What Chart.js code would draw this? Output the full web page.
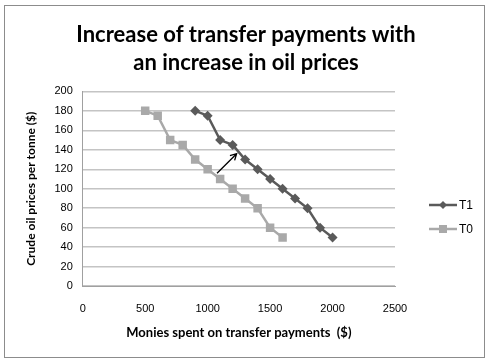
<!DOCTYPE html>
<html>
<head>
<meta charset="utf-8">
<script src="https://cdn.jsdelivr.net/npm/chart.js@4/dist/chart.umd.min.js"></script>
<style>
  body { margin: 0; background: #fff; }
  #wrap { position: relative; width: 492px; height: 363px; }
  #frame { position: absolute; left: 4px; top: 5px; width: 479px; height: 351px; border: 1px solid #8c8c8c; pointer-events: none; }
</style>
</head>
<body>
<div id="wrap">
  <canvas id="chart" width="492" height="363"></canvas>
  <div id="frame"></div>
</div>
<script>
// monies spent on transfer payments ($)
const moniesT1 = [900, 1000, 1100, 1200, 1300, 1400, 1500, 1600, 1700, 1800, 1900, 2000];
const moniesT0 = [500, 600, 700, 800, 900, 1000, 1100, 1200, 1300, 1400, 1500, 1600];
// crude oil price per tonne ($)
const pricesT1 = [180, 175, 150, 145, 130, 120, 110, 100, 90, 80, 60, 50];
const pricesT0 = [180, 175, 150, 145, 130, 120, 110, 100, 90, 80, 60, 50];
// shift arrow, from T0 towards T1 (data units)
const arrowFrom = [1075, 116];
const arrowTo = [1232, 136];

const colorT1 = '#5a5a5a';
const colorT0 = '#a9a9a9';

function toPoints(xs, ys) {
    return xs.map((x, i) => ({x: x, y: ys[i]}));
}

// arrow drawn through the scales
const arrowPlugin = {
    id: 'arrow',
    afterDatasetsDraw(chart) {
        const ctx = chart.ctx;
        const xs = chart.scales.x, ys = chart.scales.y;
        const x1 = xs.getPixelForValue(arrowFrom[0]), y1 = ys.getPixelForValue(arrowFrom[1]);
        const x2 = xs.getPixelForValue(arrowTo[0]), y2 = ys.getPixelForValue(arrowTo[1]);
        const a = Math.atan2(y2 - y1, x2 - x1);
        ctx.save();
        ctx.strokeStyle = '#000';
        ctx.lineWidth = 1.3;
        ctx.beginPath();
        ctx.moveTo(x1, y1);
        ctx.lineTo(x2, y2);
        ctx.moveTo(x2 - 7 * Math.cos(a - 0.5), y2 - 7 * Math.sin(a - 0.5));
        ctx.lineTo(x2, y2);
        ctx.lineTo(x2 - 7 * Math.cos(a + 0.5), y2 - 7 * Math.sin(a + 0.5));
        ctx.stroke();
        ctx.restore();
    }
};

// excel style legend: line with marker in the middle
const legendPlugin = {
    id: 'sideLegend',
    afterDraw(chart) {
        const ctx = chart.ctx;
        const rows = [205, 229];
        ctx.save();
        chart.data.datasets.forEach((ds, i) => {
            const y = rows[i];
            ctx.strokeStyle = ds.borderColor;
            ctx.lineWidth = 2.5;
            ctx.beginPath();
            ctx.moveTo(429, y);
            ctx.lineTo(457, y);
            ctx.stroke();
            ctx.fillStyle = ds.backgroundColor;
            ctx.beginPath();
            if (ds.pointStyle === 'rectRot') {
                ctx.moveTo(443, y - 4); ctx.lineTo(447, y); ctx.lineTo(443, y + 4); ctx.lineTo(439, y);
            } else {
                ctx.rect(439, y - 4, 8, 8);
            }
            ctx.fill();
            ctx.fillStyle = '#000';
            ctx.font = '12px "Liberation Sans", sans-serif';
            ctx.textBaseline = 'middle';
            ctx.fillText(ds.label, 459, y + 1);
        });
        ctx.restore();
    }
};

new Chart(document.querySelector('#chart').getContext('2d'), {
    type: 'line',
    data: {
        datasets: [{
            label: 'T1',
            data: toPoints(moniesT1, pricesT1),
            borderColor: colorT1,
            backgroundColor: colorT1,
            borderWidth: 2.5,
            pointStyle: 'rectRot',
            pointRadius: 5,
            pointBorderWidth: 0,
            tension: 0
        }, {
            label: 'T0',
            data: toPoints(moniesT0, pricesT0),
            borderColor: colorT0,
            backgroundColor: colorT0,
            borderWidth: 2.5,
            pointStyle: 'rect',
            pointRadius: 6,
            pointBorderWidth: 0,
            tension: 0
        }]
    },
    options: {
        responsive: false,
        animation: false,
        layout: { padding: {left: 20, right: 20, top: 12, bottom: 22} },
        plugins: {
            legend: { display: false },
            tooltip: { enabled: false },
            title: {
                display: true,
                text: ['Increase of transfer payments with', 'an increase in oil prices'],
                color: '#000',
                font: { family: 'Lato', size: 22, weight: 'bold', lineHeight: 1.28 },
                padding: { top: 9, bottom: 14 }
            }
        },
        scales: {
            x: {
                type: 'linear',
                min: 0,
                max: 2500,
                ticks: { stepSize: 500, color: '#000', padding: 16, font: { family: 'Liberation Sans', size: 11 },
                         callback: value => String(value) },
                grid: { display: false, drawTicks: false },
                border: { color: '#a0a0a0' },
                title: {
                    display: true,
                    text: 'Monies spent on transfer payments  ($)',
                    color: '#000',
                    font: { family: 'Lato', size: 13, weight: 'bold' },
                    padding: { top: -6, bottom: 0 }
                }
            },
            y: {
                min: 0,
                max: 200,
                ticks: { stepSize: 20, color: '#000', padding: 10, font: { family: 'Liberation Sans', size: 11 } },
                grid: { color: '#c4c4c4', lineWidth: 1.5, drawTicks: false },
                border: { display: true, color: '#a0a0a0' },
                title: {
                    display: true,
                    text: 'Crude oil prices per tonne ($)',
                    color: '#000',
                    font: { family: 'Lato', size: 12, weight: 'bold' },
                    padding: { bottom: 6 }
                }
            },
            // empty right axis, reserves room for the legend
            legendSpace: {
                position: 'right',
                min: 0,
                max: 200,
                afterFit: scale => { scale.width = 77; },
                ticks: { display: false },
                grid: { display: false, drawTicks: false },
                border: { display: false }
            }
        }
    },
    plugins: [arrowPlugin, legendPlugin]
});
</script>
</body>
</html>
